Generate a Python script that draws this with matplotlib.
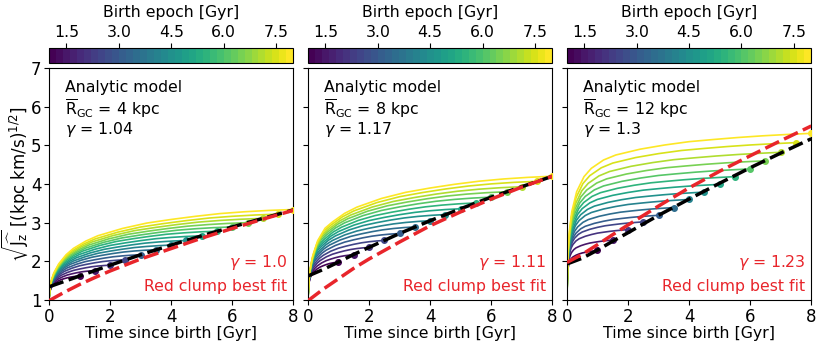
import numpy as np
import matplotlib
matplotlib.use('Agg')
import matplotlib.pyplot as plt
from matplotlib.colors import Normalize
from matplotlib.cm import ScalarMappable

plt.rcParams['font.size'] = 11.3
plt.rcParams['xtick.labelsize'] = 12
plt.rcParams['ytick.labelsize'] = 12
plt.rcParams['mathtext.default'] = 'regular'

# birth epochs of the model tracks (Gyr) == how long each track runs
ages = [1.0, 1.5, 2.0, 2.5, 3.0, 3.5, 4.0, 4.5, 5.0, 5.5, 6.0, 6.5, 7.0, 7.5, 8.0]

# shape of one heating track: fraction of its life vs fraction of total rise
frac_life = [0, 0.005, 0.01, 0.02, 0.04, 0.07, 0.1, 0.15, 0.2, 0.3, 0.4, 0.5, 0.6, 0.7, 0.8, 0.9, 1.0]
rise_4kpc = [0, 0.15, 0.22, 0.30, 0.40, 0.50, 0.57, 0.65, 0.71, 0.79, 0.85, 0.89, 0.925, 0.955, 0.975, 0.99, 1.0]
rise_8kpc = [0, 0.18, 0.26, 0.36, 0.48, 0.58, 0.63, 0.70, 0.75, 0.82, 0.87, 0.905, 0.935, 0.96, 0.978, 0.991, 1.0]
rise_12kpc = [0, 0.30, 0.41, 0.53, 0.65, 0.74, 0.79, 0.84, 0.87, 0.905, 0.93, 0.95, 0.963, 0.975, 0.985, 0.993, 1.0]

# sqrt(Jz) reached at the end of each track (the dots)
end_4kpc = [1.62, 1.76, 1.90, 2.04, 2.17, 2.30, 2.42, 2.54, 2.66, 2.78, 2.89, 3.00, 3.11, 3.22, 3.34]
end_8kpc = [1.98, 2.17, 2.36, 2.54, 2.72, 2.89, 3.05, 3.21, 3.36, 3.51, 3.66, 3.80, 3.93, 4.07, 4.20]
end_12kpc = [2.28, 2.55, 2.82, 3.02, 3.19, 3.39, 3.60, 3.79, 3.99, 4.19, 4.39, 4.60, 4.82, 5.07, 5.31]

# fits: analytic model (black) and red clump (red)
t_fit = [0, 0.5, 1, 1.5, 2, 3, 4, 5, 6, 7, 8]
model_4kpc = [1.34, 1.48, 1.62, 1.76, 1.90, 2.17, 2.42, 2.66, 2.89, 3.11, 3.33]
model_8kpc = [1.62, 1.79, 1.98, 2.18, 2.36, 2.72, 3.05, 3.36, 3.66, 3.93, 4.20]
model_12kpc = [1.93, 2.08, 2.29, 2.52, 2.74, 3.19, 3.61, 4.02, 4.42, 4.80, 5.17]
rc_4kpc = [0.98, 1.20, 1.40, 1.58, 1.75, 2.06, 2.33, 2.60, 2.85, 3.09, 3.32]
rc_8kpc = [0.98, 1.28, 1.55, 1.82, 2.06, 2.50, 2.92, 3.28, 3.61, 3.92, 4.20]
rc_12kpc = [1.97, 2.18, 2.43, 2.69, 2.94, 3.43, 3.90, 4.33, 4.73, 5.12, 5.50]

radii = ['4', '8', '12']
gamma_model = ['1.04', '1.17', '1.3']
gamma_rc = ['1.0', '1.11', '1.23']

panels = [
    (rise_4kpc, end_4kpc, model_4kpc, rc_4kpc),
    (rise_8kpc, end_8kpc, model_8kpc, rc_8kpc),
    (rise_12kpc, end_12kpc, model_12kpc, rc_12kpc),
]

red = '#e8252b'
cmap = plt.get_cmap('viridis', 35)
norm = Normalize(vmin=1, vmax=8)
dash = (0, (4.4, 1.6))

fig = plt.figure(figsize=(8.3, 3.43), dpi=100)
lefts = [0.059, 0.371, 0.683]
w = 0.2945

for i, (rise, ends, model, rc) in enumerate(panels):
    ax = fig.add_axes([lefts[i], 0.1254, w, 0.6764])
    f = np.array(frac_life)
    r = np.array(rise)
    for age, yend in zip(ages, ends):
        c = cmap(norm(age))
        ax.plot(age * f, 1 + (yend - 1) * r, color=c, lw=1.2, zorder=2)
        ax.plot(age, yend, 'o', color=c, ms=4, zorder=3)
    ax.plot(t_fit, model, color='k', ls=dash, lw=2.5, zorder=4)
    ax.plot(t_fit, rc, color=red, ls=dash, lw=2.5, zorder=5)

    ax.set_xlim(0, 8)
    ax.set_ylim(1, 7)
    ax.set_xticks([0, 2, 4, 6, 8])
    ax.set_yticks([1, 2, 3, 4, 5, 6, 7])
    ax.tick_params(pad=2)
    ax.set_xlabel('Time since birth [Gyr]', labelpad=0)
    if i == 0:
        ax.set_ylabel(r'$\sqrt{\widehat{J_z}}$ [(kpc km/s)$^{1/2}$]', fontsize=12)
        ax.yaxis.set_label_coords(-0.072, 0.5)
    else:
        ax.set_yticklabels([])

    ax.text(0.065, 0.95, 'Analytic model', transform=ax.transAxes, va='top')
    ax.text(0.065, 0.875, r'$\overline{\rm R}_{\rm GC}$ = ' + radii[i] + ' kpc',
            transform=ax.transAxes, va='top')
    ax.text(0.065, 0.775, r'$\it{\gamma}$ = ' + gamma_model[i], transform=ax.transAxes, va='top')
    ax.text(0.975, 0.12, r'$\it{\gamma}$ = ' + gamma_rc[i], transform=ax.transAxes,
            ha='right', va='bottom', color=red)
    ax.text(0.975, 0.025, 'Red clump best fit', transform=ax.transAxes,
            ha='right', va='bottom', color=red)

    cax = fig.add_axes([lefts[i], 0.817, w, 0.0437])
    cb = fig.colorbar(ScalarMappable(norm=norm, cmap=cmap), cax=cax, orientation='horizontal')
    cb.set_ticks([1.5, 3.0, 4.5, 6.0, 7.5])
    cax.tick_params(labelsize=11.3, pad=2)
    cax.xaxis.set_ticks_position('top')
    cax.xaxis.set_label_position('top')
    cb.set_label('Birth epoch [Gyr]', labelpad=6)

fig.savefig('out.png', dpi=100)
